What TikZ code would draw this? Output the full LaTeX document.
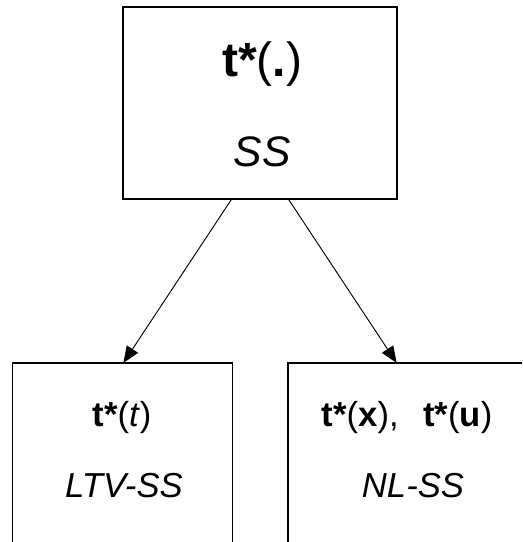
\documentclass[tikz,border=0pt]{standalone}
\usepackage{fontspec}
\setmainfont{Liberation Sans}
\usetikzlibrary{arrows.meta}
\tikzset{
  boxshape/.style={draw=black, line width=0.9pt, rectangle, inner sep=0pt},
  arr/.style={draw=black, line width=0.7pt, -{Triangle[length=12.5pt,width=10pt]}},
  headtxt/.style={anchor=base, inner sep=0pt, font=\fontsize{36}{42}\selectfont},
  bigtxt/.style={anchor=base, inner sep=0pt, font=\fontsize{32}{38}\selectfont},
  smalltxt/.style={anchor=base, inner sep=0pt, font=\fontsize{26}{31}\selectfont}
}
\begin{document}
\begin{tikzpicture}[x=0.75pt,y=-0.75pt]
\useasboundingbox (0,0) rectangle (522,542);
\clip (0,0) rectangle (522,542);
% boxes
\node[boxshape, minimum width=274*0.75pt, minimum height=192*0.75pt] (top) at (260,103) {};
\node[boxshape, minimum width=220*0.75pt, minimum height=257*0.75pt] (lbox) at (122.7,491.5) {};
\node[boxshape, minimum width=238*0.75pt, minimum height=257*0.75pt] (rbox) at (407,491.5) {};
% texts
\node[headtxt] (t1) at (262,76.7) {\textbf{t*}(\textbf{.})};
\node[bigtxt] (t2) at (262,166.7) {\textit{SS}};
\node[smalltxt] (l1) at (122,426) {\textbf{t*}(\textit{t})};
\node[smalltxt] (l2) at (124,497) {\textit{LTV-SS}};
\node[smalltxt] (r1) at (407,426) {\textbf{t*}(\textbf{x}),\hspace{0.7em}\textbf{t*}(\textbf{u})};
\node[smalltxt] (r2) at (413,497) {\textit{NL-SS}};
% connector end points
\coordinate (s1) at (231.7,199);
\coordinate (s2) at (288.3,199);
\coordinate (e1) at (123.3,363);
\coordinate (e2) at (396.7,363);
\draw[arr] (s1) -- (e1);
\draw[arr] (s2) -- (e2);
\end{tikzpicture}
\end{document}
